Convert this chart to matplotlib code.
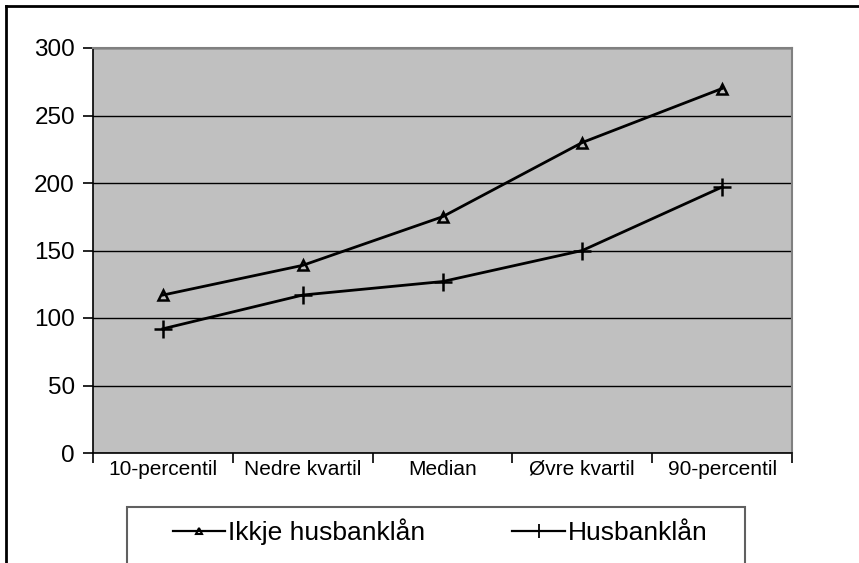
import matplotlib
matplotlib.use("Agg")
import matplotlib.pyplot as plt
from matplotlib.lines import Line2D
from matplotlib.patches import Rectangle

categories = ['10-percentil', 'Nedre kvartil', 'Median', 'Øvre kvartil', '90-percentil']
ikkje_husbank = [117, 139, 175, 230, 270]
husbank = [92, 117, 127, 150, 197]
y_ticks = [0, 50, 100, 150, 200, 250, 300]
series_names = ['Ikkje husbanklån', 'Husbanklån']

plt.rcParams['font.family'] = ['Liberation Sans', 'DejaVu Sans']

W, H = 859, 563
fig = plt.figure(figsize=(W / 100, H / 100), dpi=100)

# plot area in pixels: left 93, right 792, top 48, bottom 453
ax = fig.add_axes([93 / W, 1 - 453 / H, (792 - 93) / W, (453 - 48) / H])
ax.set_facecolor('#c0c0c0')

x = [i + 0.5 for i in range(len(categories))]
ax.plot(x, ikkje_husbank, color='black', lw=2, marker='^', ms=7,
        mfc='none', mec='black', mew=1.8, zorder=3)
ax.plot(x, husbank, color='black', lw=2, marker='+', ms=13,
        mew=1.8, zorder=3)

ax.set_xlim(0, len(categories))
ax.set_ylim(0, 300)
ax.set_yticks(y_ticks)
ax.yaxis.grid(True, color='black', lw=1)
ax.set_axisbelow(True)

ax.set_xticks(range(len(categories) + 1))
ax.set_xticklabels([])
ax.set_xticks(x, minor=True)
ax.set_xticklabels(categories, minor=True, fontsize=15)
ax.tick_params(axis='x', which='minor', length=0, pad=5)
ax.tick_params(axis='x', which='major', length=7, width=1.2, direction='out')
ax.tick_params(axis='y', length=7, width=1.2, direction='out', labelsize=17.5, pad=6)

for s in ['top', 'right']:
    ax.spines[s].set_color('#808080')
    ax.spines[s].set_linewidth(1.5)
for s in ['left', 'bottom']:
    ax.spines[s].set_color('black')
    ax.spines[s].set_linewidth(1.2)

# legend box, cut at bottom of image
fig.patches.append(Rectangle((127 / W, -0.05), (745 - 127) / W, 0.05 + 1 - 507 / H,
                             transform=fig.transFigure, fill=False,
                             edgecolor='#606060', lw=1.5))
handles = [
    Line2D([], [], color='black', lw=1.6, marker='^', ms=5, mfc='none', mew=1.5),
    Line2D([], [], color='black', lw=1.6, marker='+', ms=10, mew=1.3),
]
fig.legend(handles, series_names, loc='center', bbox_to_anchor=(440 / W, 1 - 532 / H),
           ncol=2, frameon=False, fontsize=19, handlelength=2.0, handletextpad=0.1,
           columnspacing=3.3)

# outer frame
fig.add_artist(Line2D([6 / W, 1.0], [1 - 6 / H, 1 - 6 / H], color='black', lw=2,
                      transform=fig.transFigure))
fig.add_artist(Line2D([6 / W, 6 / W], [1 - 6 / H, 0.0], color='black', lw=2,
                      transform=fig.transFigure))

fig.savefig('out.png', dpi=100)
